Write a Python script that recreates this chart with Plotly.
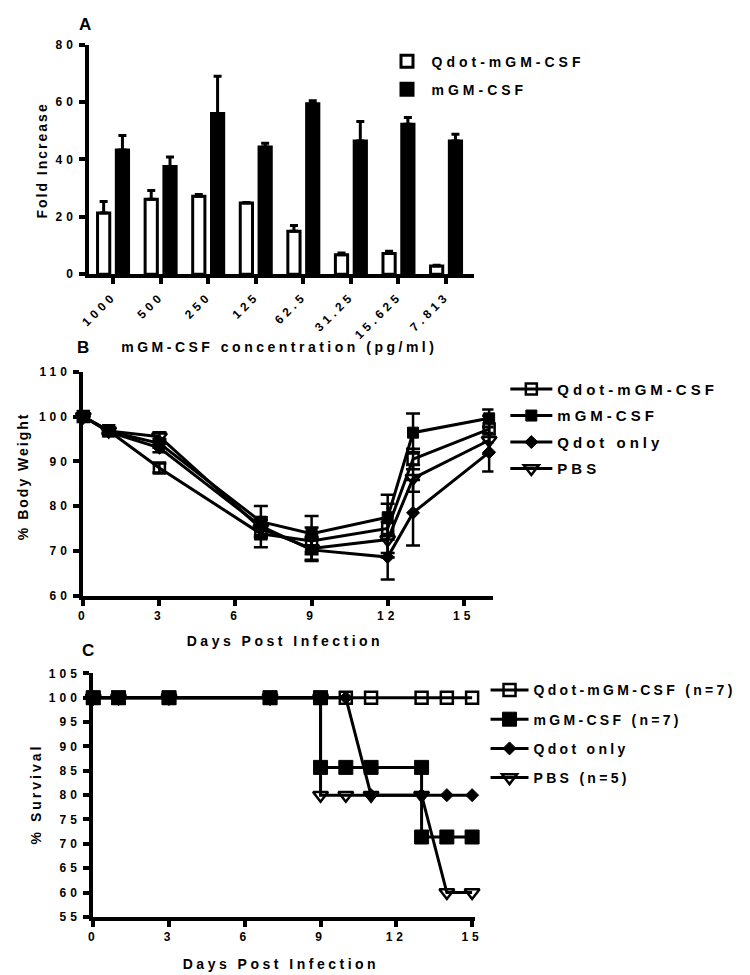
import plotly.graph_objects as go

# ---------------- Data ----------------
# Panel A: fold increase by mGM-CSF concentration
conc_labels = ["1000", "500", "250", "125", "62.5", "31.25", "15.625", "7.813"]
qdot_fold = [21.3, 26.1, 27.2, 24.8, 15.0, 6.8, 7.2, 2.9]
qdot_fold_err = [4.0, 3.1, 0.6, 0.2, 2.0, 0.6, 0.8, 0.2]
mgm_fold = [43.3, 37.5, 56.0, 44.3, 59.4, 46.4, 52.2, 46.4]
mgm_fold_err = [5.0, 3.3, 13.0, 1.3, 1.0, 6.8, 2.4, 2.4]

# Panel B: % body weight
weight_days = [0, 1, 3, 7, 9, 12, 13, 16]
w_qdot_mgm = [100, 96.8, 88.5, 73.8, 72.2, 75.0, 90.5, 97.2]
w_qdot_mgm_err = [0, 0.5, 1.0, 3.0, 3.0, 5.5, 2.3, 3.0]
w_mgm = [100, 96.7, 94.0, 76.5, 73.8, 77.5, 96.4, 99.6]
w_mgm_err = [0, 0.5, 1.0, 3.5, 4.0, 5.0, 4.3, 2.0]
w_qdot_only = [100, 96.6, 93.0, 75.5, 70.2, 68.6, 78.5, 92.0]
w_qdot_only_err = [0, 0.5, 1.0, 2.0, 2.5, 5.0, 7.3, 4.3]
w_pbs = [100, 96.8, 95.5, 75.0, 70.5, 72.5, 86.2, 94.7]
w_pbs_err = [0, 0.5, 1.0, 2.0, 2.5, 4.0, 3.0, 3.0]

# Panel C: % survival
s_qdot_mgm_days = [0, 1, 3, 7, 9, 10, 11, 13, 14, 15]
s_qdot_mgm = [100, 100, 100, 100, 100, 100, 100, 100, 100, 100]
s_mgm_days = [0, 1, 3, 7, 9, 9, 10, 11, 13, 13, 14, 15]
s_mgm = [100, 100, 100, 100, 100, 85.7, 85.7, 85.7, 85.7, 71.4, 71.4, 71.4]
s_qdot_only_days = [0, 1, 3, 7, 9, 10, 11, 13, 14, 15]
s_qdot_only = [100, 100, 100, 100, 100, 100, 80, 80, 80, 80]
s_pbs_days = [0, 1, 3, 7, 9, 9, 10, 11, 13, 14, 15]
s_pbs = [100, 100, 100, 100, 100, 80, 80, 80, 80, 60, 60]

names_b = ["Qdot-mGM-CSF", "mGM-CSF", "Qdot only", "PBS"]
names_c = ["Qdot-mGM-CSF (n=7)", "mGM-CSF (n=7)", "Qdot only", "PBS (n=5)"]

# ---------------- Figure ----------------
FONT = "Liberation Sans, Arial, sans-serif"
W, H = 750, 975


def px_x(p):
    return p / W


def px_y(p):
    return 1 - p / H


fig = go.Figure()

# Panel A bars
fig.add_trace(go.Bar(
    x=conc_labels, y=qdot_fold, name="Qdot-mGM-CSF",
    marker=dict(color="white", line=dict(color="black", width=3)),
    error_y=dict(type="data", symmetric=False, array=qdot_fold_err,
                 arrayminus=[0] * len(qdot_fold_err), color="black", thickness=3, width=4),
    xaxis="x", yaxis="y", legend="legend", legendgroup="a1",
))
fig.add_trace(go.Bar(
    x=conc_labels, y=mgm_fold, name="mGM-CSF",
    marker=dict(color="black", line=dict(color="black", width=3)),
    error_y=dict(type="data", symmetric=False, array=mgm_fold_err,
                 arrayminus=[0] * len(mgm_fold_err), color="black", thickness=3, width=4),
    xaxis="x", yaxis="y", legend="legend", legendgroup="a2",
))

# Panel B lines
b_series = [
    (w_qdot_mgm, w_qdot_mgm_err, dict(symbol="square-open", size=11, color="black", line=dict(width=2.5, color="black"))),
    (w_mgm, w_mgm_err, dict(symbol="square", size=11, color="black", line=dict(width=1, color="black"))),
    (w_qdot_only, w_qdot_only_err, dict(symbol="diamond", size=10, color="black", line=dict(width=1, color="black"))),
    (w_pbs, w_pbs_err, dict(symbol="triangle-down-open", size=13, color="black", line=dict(width=2.5, color="black"))),
]
for i, (vals, errs, mk) in enumerate(b_series):
    fig.add_trace(go.Scatter(
        x=weight_days, y=vals, name=names_b[i], mode="lines+markers",
        line=dict(color="black", width=3), marker=mk,
        error_y=dict(type="data", array=errs, color="black", thickness=2.5, width=7),
        cliponaxis=False, xaxis="x2", yaxis="y2", legend="legend2", legendgroup="b%d" % i,
    ))

# Panel C lines
c_series = [
    (s_qdot_mgm_days, s_qdot_mgm, dict(symbol="square-open", size=12, color="black", line=dict(width=2.5, color="black"))),
    (s_mgm_days, s_mgm, dict(symbol="square", size=14, color="black", line=dict(width=1, color="black"))),
    (s_qdot_only_days, s_qdot_only, dict(symbol="diamond", size=10, color="black", line=dict(width=1, color="black"))),
    (s_pbs_days, s_pbs, dict(symbol="triangle-down-open", size=13, color="black", line=dict(width=2.5, color="black"))),
]
for i, (xs, ys, mk) in enumerate(c_series):
    fig.add_trace(go.Scatter(
        x=xs, y=ys, name=names_c[i], mode="lines+markers",
        line=dict(color="black", width=3), marker=mk,
        cliponaxis=False, xaxis="x3", yaxis="y3", legend="legend3", legendgroup="c%d" % i,
    ))

tickfont = dict(family=FONT, size=12, color="black", weight="bold")
axis_common = dict(showline=True, linewidth=4, linecolor="black", ticks="outside",
                   ticklen=6, tickwidth=3.5, tickcolor="black", showgrid=False,
                   zeroline=False, tickfont=tickfont, fixedrange=True)

fig.update_layout(
    width=W, height=H, autosize=False,
    margin=dict(l=0, r=0, t=0, b=0),
    paper_bgcolor="white", plot_bgcolor="white",
    barmode="group", bargap=0.21, bargroupgap=0.35,
    font=dict(family=FONT, color="black"),
    xaxis=dict(domain=[px_x(79), px_x(467)], anchor="y", type="category",
               categoryorder="array", categoryarray=conc_labels, tickangle=-45,
               range=[-0.5, 7.58], **axis_common),
    yaxis=dict(domain=[px_y(263), px_y(30)], anchor="x", range=[0, 80],
               tickvals=[0, 20, 40, 60, 80], **axis_common),
    xaxis2=dict(domain=[px_x(73), px_x(487)], anchor="y2", range=[0, 16.17],
                tickvals=[0, 3, 6, 9, 12, 15], **axis_common),
    yaxis2=dict(domain=[px_y(589), px_y(362)], anchor="x2", range=[60, 110],
                tickvals=[60, 70, 80, 90, 100, 110], **axis_common),
    xaxis3=dict(domain=[px_x(83), px_x(468)], anchor="y3", range=[0, 15.1],
                tickvals=[0, 3, 6, 9, 12, 15], **axis_common),
    yaxis3=dict(domain=[px_y(915), px_y(668)], anchor="x3", range=[55, 105],
                tickvals=[55, 60, 65, 70, 75, 80, 85, 90, 95, 100, 105], **axis_common),
    legend=dict(x=px_x(375), y=px_y(31), xanchor="left", yanchor="top",
                font=dict(family=FONT, size=14, color="black", weight="bold"),
                itemwidth=39, tracegroupgap=7, bgcolor="rgba(0,0,0,0)"),
    legend2=dict(x=px_x(499), y=px_y(363), xanchor="left", yanchor="top",
                 font=dict(family=FONT, size=15, color="black", weight="bold"),
                 itemwidth=42, tracegroupgap=4, bgcolor="rgba(0,0,0,0)"),
    legend3=dict(x=px_x(479), y=px_y(669), xanchor="left", yanchor="top",
                 font=dict(family=FONT, size=14, color="black", weight="bold"),
                 itemwidth=38, tracegroupgap=8, bgcolor="rgba(0,0,0,0)"),
)

title_font = dict(family=FONT, size=14, color="black", weight="bold")
label_font = dict(family=FONT, size=17, color="black", weight="bold")
annots = [
    ("A", 75, 10, 0, label_font),
    ("B", 73, 337, 0, label_font),
    ("C", 78, 645, 0, label_font),
    ("mGM-CSF concentration (pg/ml)", 271, 337, 0, title_font),
    ("Fold Increase", 31, 148, -90, title_font),
    ("Days Post Infection", 277, 635, 0, title_font),
    ("% Body Weight", 12, 468, -90, title_font),
    ("Days Post Infection", 273, 963, 0, title_font),
    ("% Survival", 25, 790, -90, title_font),
]
for text, x, y, ang, f in annots:
    fig.add_annotation(text=text, x=px_x(x), y=px_y(y), xref="paper", yref="paper",
                       xanchor="center", yanchor="middle", showarrow=False,
                       textangle=ang, font=f)

post = """
var st = document.createElement('style');
st.textContent =
  "svg.main-svg text{letter-spacing:4px !important}" +
  "svg.main-svg g.legend3 text, svg.main-svg g[class*='legend3'] text{letter-spacing:3.3px !important}" +
  "svg.main-svg g.annotation text.annotation-text{letter-spacing:3.5px !important}" +
  "svg.main-svg g.annotation[data-index='4'] text.annotation-text," +
  "svg.main-svg g.annotation[data-index='6'] text.annotation-text{letter-spacing:2px !important}" +
  "svg.main-svg g.annotation[data-index='8'] text.annotation-text{letter-spacing:3px !important}" +
  "svg.main-svg g.annotation[data-index='0'] text.annotation-text," +
  "svg.main-svg g.annotation[data-index='1'] text.annotation-text," +
  "svg.main-svg g.annotation[data-index='2'] text.annotation-text{letter-spacing:0px !important}" +
  "g.scrollbox{clip-path:none !important}";
document.head.appendChild(st);
"""

fig.write_html("out.html", post_script=post)
